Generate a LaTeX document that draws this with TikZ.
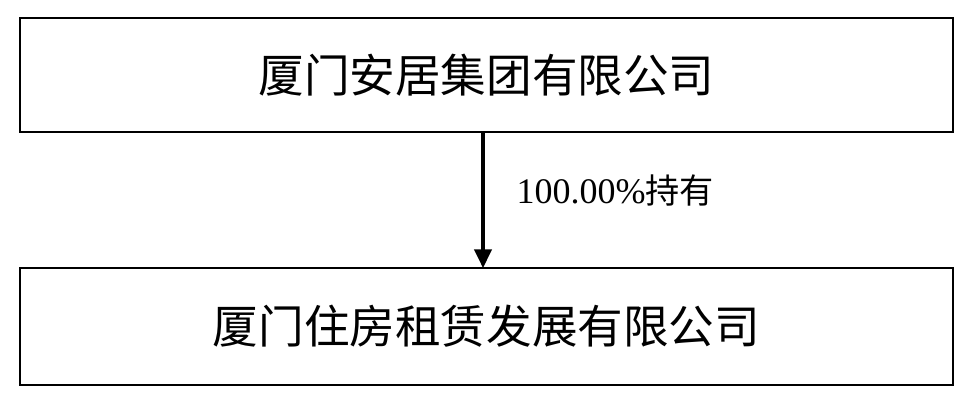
\documentclass[tikz,border=0pt]{standalone}
\usepackage{fontspec}
\setmainfont{Liberation Serif}
\newfontfamily\cjk{Noto Sans CJK SC}[Scale=0.95]
\usetikzlibrary{arrows.meta}
\begin{document}
\begin{tikzpicture}[x=0.75pt,y=-0.75pt,
  box/.style={draw,line width=1.3pt,minimum width=933*0.75pt,inner sep=0pt},
  lbl/.style={font=\fontsize{36}{40}\selectfont\cjk}]
\useasboundingbox (0,0) rectangle (966,400);
\node[box,minimum height=114*0.75pt,lbl] (a) at (486.5,75) {厦门安居集团有限公司};
\node[box,minimum height=117*0.75pt,lbl] (b) at (486.5,326.5) {厦门住房租赁发展有限公司};
\draw[line width=2.5pt,-{Triangle[length=14pt,width=13pt]}] (483,132) -- (483,268) coordinate (e);
\node[anchor=west,font=\fontsize{27}{30}\selectfont] (l) at (512,190) {100.00\%{\cjk 持有}};
\end{tikzpicture}
\end{document}
